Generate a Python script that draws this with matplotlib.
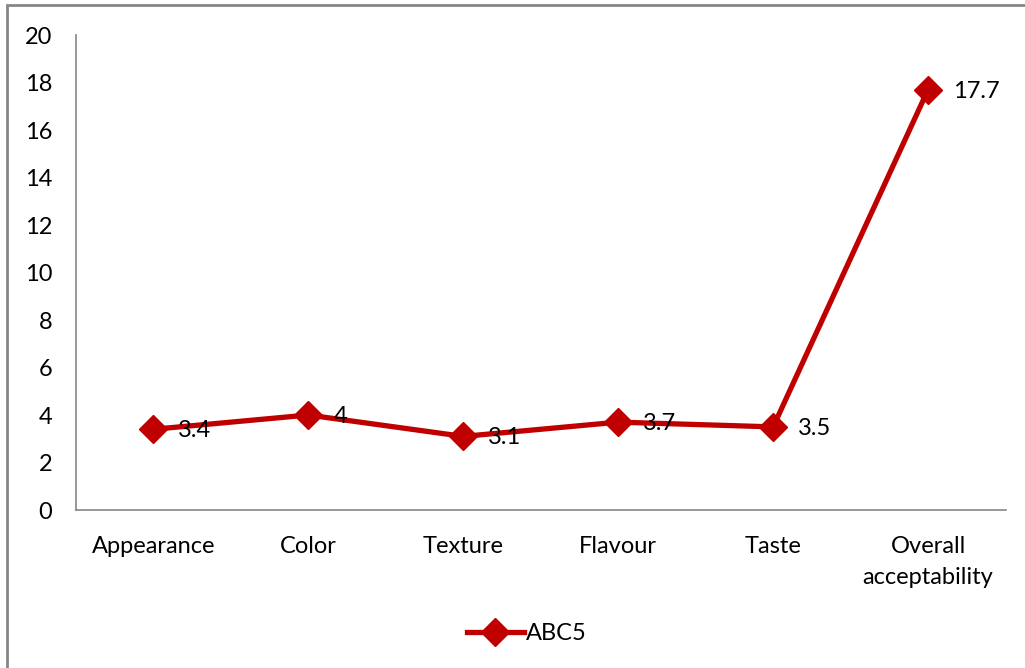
import matplotlib.pyplot as plt
from matplotlib.patches import Rectangle

categories = ['Appearance', 'Color', 'Texture', 'Flavour', 'Taste', 'Overall\nacceptability']
values = [3.4, 4, 3.1, 3.7, 3.5, 17.7]
labels = ['3.4', '4', '3.1', '3.7', '3.5', '17.7']
yticks = [0, 2, 4, 6, 8, 10, 12, 14, 16, 18, 20]

plt.rcParams['font.family'] = ['Lato', 'DejaVu Sans']
red = '#C00000'
grey = '#868686'
fs = 17

fig = plt.figure(figsize=(10.25, 6.68), dpi=100)
ax = fig.add_axes([0.0741, 0.2365, 0.9069, 0.7111])

x = list(range(len(categories)))
ax.plot(x, values, color=red, lw=3.8, marker='D', markersize=14,
        solid_joinstyle='round', label='ABC5')
for xi, v, t in zip(x, values, labels):
    ax.annotate(t, (xi, v), xytext=(18, -1), textcoords='offset points',
                ha='left', va='center', fontsize=fs)

ax.set_xlim(-0.5, 5.5)
ax.set_ylim(0, 20)
ax.set_yticks(yticks)
ax.set_xticks(x)
ax.set_xticklabels(categories, fontsize=fs, linespacing=1.6)
ax.tick_params(axis='y', length=0, pad=17, labelsize=fs)
ax.tick_params(axis='x', length=0, pad=18.5)
for s in ['top', 'right']:
    ax.spines[s].set_visible(False)
for s in ['left', 'bottom']:
    ax.spines[s].set_color(grey)
    ax.spines[s].set_linewidth(1.2)

fig.legend(loc='center', bbox_to_anchor=(0.514, 0.052), frameon=False,
           fontsize=fs, handlelength=2.4, handletextpad=0.1)

fig.patches.append(Rectangle((7 / 1025, -0.02), 1.1, 1 - 5 / 668 + 0.02,
                             transform=fig.transFigure, fill=False,
                             edgecolor=grey, lw=2))

fig.savefig('out.png', dpi=100)
